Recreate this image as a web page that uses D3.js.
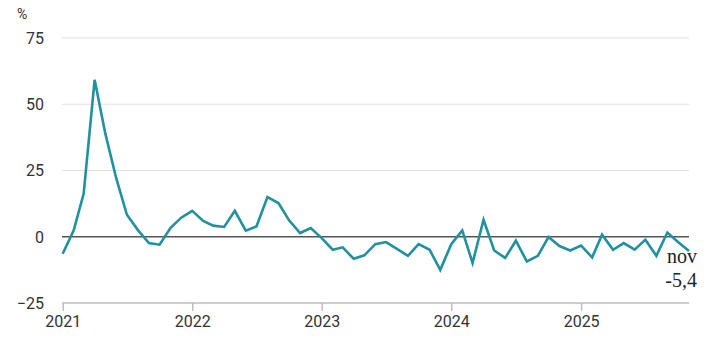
<!DOCTYPE html>
<html>
<head>
<meta charset="utf-8">
<script src="https://cdn.jsdelivr.net/npm/d3@7/dist/d3.min.js"></script>
<style>
  body { margin: 0; background: #fff; }
  svg { display: block; font-family: Roboto, "Noto Sans", sans-serif; }
</style>
</head>
<body>
<div id="chart"></div>
<script>
// monthly values, jan 2021 .. nov 2025 (%)
var values2021 = [-6.4, 2.4, 16.2, 59.2, 39, 22, 8.3, 2.5, -2.4, -3.0, 3.4, 7.2]
var values2022 = [9.8, 6, 4.2, 3.7, 9.8, 2.3, 3.9, 15, 12.7, 6.2, 1.4, 3.3]
var values2023 = [-0.5, -4.9, -4, -8.3, -7, -2.8, -2, -4.6, -7.2, -2.8, -4.9, -12.5]
var values2024 = [-2.8, 2.4, -9.9, 6.4, -5.2, -8, -1.5, -9.3, -7.2, -0.1, -3.5, -5.2]
var values2025 = [-3.3, -7.8, 0.8, -4.9, -2.4, -4.9, -1.1, -7.2, 1.6, -2, -5.4]

var yTicks = [-25, 0, 25, 50, 75]
var yearTicks = [2021, 2022, 2023, 2024, 2025]
var lastLabel = 'nov'
var unitLabel = '%'

var allValues = [].concat(values2021, values2022, values2023, values2024, values2025)
var data = []
for (var i = 0; i < allValues.length; i++) {
  data.push({ date: new Date(2021, i, 1), value: allValues[i] })
}

var w = 705, h = 354
var margin = { top: 38, right: 16, bottom: 51, left: 62 }

var svg = d3.select('#chart').append('svg')
  .attr('width', w)
  .attr('height', h)

var x = d3.scaleTime()
  .domain([new Date(2021, 0, 1), new Date(2025, 10, 1)])
  .range([margin.left + 0.7, 689])

var y = d3.scaleLinear()
  .domain([-25, 75])
  .range([h - margin.bottom, margin.top])

// gridlines
svg.append('g')
  .selectAll('line')
  .data(yTicks.filter(function(d){ return d > 0 }))
  .enter()
  .append('line')
  .attr('x1', margin.left)
  .attr('x2', 689)
  .attr('y1', function(d){ return y(d) })
  .attr('y2', function(d){ return y(d) })
  .attr('stroke', '#e2e2e2')
  .attr('stroke-width', 1.2)

// y labels
svg.append('g')
  .selectAll('text')
  .data(yTicks)
  .enter()
  .append('text')
  .attr('x', 44)
  .attr('y', function(d){ return y(d) })
  .attr('dy', '0.36em')
  .attr('text-anchor', 'end')
  .attr('font-size', 16)
  .attr('fill', '#333')
  .text(function(d){ return d < 0 ? '\u2212' + Math.abs(d) : d })

svg.append('text')
  .attr('x', 17)
  .attr('y', 19)
  .attr('font-size', 14)
  .attr('fill', '#333')
  .text(unitLabel)

// bottom axis
var xAxis = d3.axisBottom(x)
  .tickValues(yearTicks.map(function(yr){ return new Date(yr, 0, 1) }))
  .tickFormat(d3.timeFormat('%Y'))
  .tickSize(8)
  .tickSizeOuter(0)

var gx = svg.append('g')
  .attr('transform', 'translate(0,' + y(-25) + ')')
  .call(xAxis)
gx.select('.domain')
  .attr('d', 'M' + margin.left + ',0H689')
  .attr('stroke', '#bdbdbd')
  .attr('stroke-width', 1.5)
gx.selectAll('.tick line').attr('stroke', '#bdbdbd').attr('stroke-width', 1.5)
gx.selectAll('.tick text')
  .attr('font-size', 16)
  .attr('font-family', 'Roboto, sans-serif')
  .attr('fill', '#333')
  .attr('y', 13)

// zero line
svg.append('line')
  .attr('x1', margin.left)
  .attr('x2', 689)
  .attr('y1', y(0))
  .attr('y2', y(0))
  .attr('stroke', '#555')
  .attr('stroke-width', 1.5)

// the series
var line = d3.line()
  .x(function(d){ return x(d.date) })
  .y(function(d){ return y(d.value) })

svg.append('path')
  .datum(data)
  .attr('fill', 'none')
  .attr('stroke', '#21909f')
  .attr('stroke-width', 2.6)
  .attr('stroke-linejoin', 'miter')
  .attr('d', line)

// last value label
var last = data[data.length - 1]
svg.append('text')
  .attr('x', 697)
  .attr('y', 263)
  .attr('text-anchor', 'end')
  .attr('font-family', '"Liberation Serif", serif')
  .attr('font-size', 20)
  .attr('fill', '#222')
  .text(lastLabel)
svg.append('text')
  .attr('x', 697)
  .attr('y', 287)
  .attr('text-anchor', 'end')
  .attr('font-family', '"Liberation Serif", serif')
  .attr('font-size', 20)
  .attr('fill', '#222')
  .text(String(last.value).replace('.', ','))
</script>
</body>
</html>
